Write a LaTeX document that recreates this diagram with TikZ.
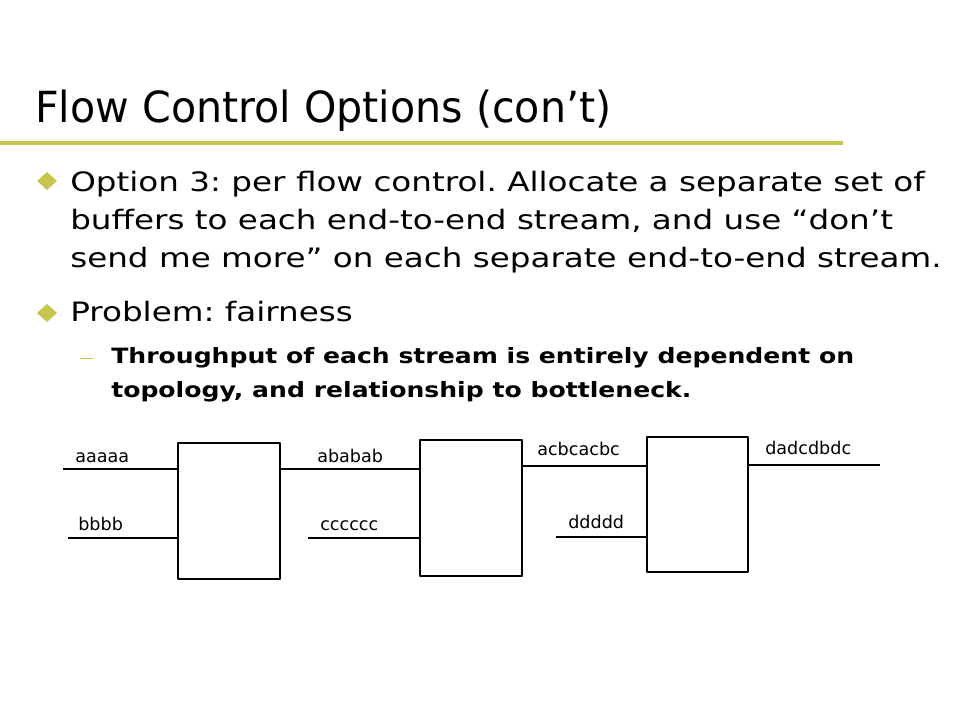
\documentclass[tikz,border=0pt]{standalone}
\usepackage{fontspec}
\setmainfont{DejaVu Sans}
\newfontfamily\titlefont[FakeStretch=0.96]{DejaVu Sans}
\newfontfamily\bodyfont[FakeStretch=1.22]{DejaVu Sans}
\newfontfamily\subfont[FakeStretch=1.19]{DejaVu Sans}
\usetikzlibrary{positioning}
\definecolor{bulletolive}{RGB}{198,198,76}
\frenchspacing

\begin{document}
\begin{tikzpicture}[x=0.025cm, y=-0.025cm, line join=round,
  body/.style={anchor=base west, inner sep=0pt, font=\bodyfont\fontsize{19}{23}\selectfont},
  subtext/.style={anchor=base west, inner sep=0pt, font=\subfont\fontsize{15}{18}\selectfont\bfseries},
  streamlbl/.style={anchor=base west, inner sep=0pt, font=\fontsize{12.5}{15}\selectfont},
  swbox/.style={draw, line width=0.8pt, minimum width=2.55cm, minimum height=3.4cm, inner sep=0pt},
  link/.style={line width=0.8pt}]
  \useasboundingbox (0,0) rectangle (960,720);
  % the title
  \node[anchor=base west, inner sep=0pt, font=\titlefont\fontsize{30.5}{36}\selectfont] (title) at (35,123) {Flow Control Options (con’t)};
  \draw[bulletolive, line width=3.5pt] (0,143) -- (843,143);
  % the bullets
  \foreach \y in {181,313} \fill[bulletolive] (47,\y-9) -- (57,\y) -- (47,\y+9) -- (37,\y) -- cycle;
  \node[body] (opt1) at (70,192) {Option 3: per flow control. Allocate a separate set of};
  \node[body] (opt2) at (70,230) {buffers to each end-to-end stream, and use “don’t};
  \node[body] (opt3) at (70,268) {send me more” on each separate end-to-end stream.};
  \node[body] (prob) at (70,322) {Problem: fairness};
  \draw[bulletolive, line width=0.7pt] (80,358) -- (93,358);
  \node[subtext] (thru1) at (111,364) {Throughput of each stream is entirely dependent on};
  \node[subtext] (thru2) at (111,398) {topology, and relationship to bottleneck.};
  % the switches
  \node[swbox] (sw1) at (229,511) {};
  \node[swbox] (sw2) at (471,508) {};
  \node[swbox, minimum width=2.525cm, minimum height=3.375cm] (sw3) at (697.5,504.5) {};
  % the streams
  \coordinate (ina) at (63,469);
  \coordinate (inb) at (68,538);
  \coordinate (inc) at (308,538);
  \coordinate (ind) at (556,537);
  \coordinate (outd) at (880,465);
  \draw[link] (ina) -- (ina -| sw1.west);
  \draw[link] (inb) -- (inb -| sw1.west);
  \draw[link] (ina -| sw1.east) -- (ina -| sw2.west);
  \draw[link] (inc) -- (inc -| sw2.west);
  \draw[link] (sw2.east |- 0,466) -- (sw3.west |- 0,466);
  \draw[link] (ind) -- (ind -| sw3.west);
  \draw[link] (outd -| sw3.east) -- (outd);
  \node[streamlbl] (lbla) at (75,463) {aaaaa};
  \node[streamlbl] (lblb) at (78,531) {bbbb};
  \node[streamlbl] (lblab) at (317,463) {ababab};
  \node[streamlbl] (lblc) at (320,531) {cccccc};
  \node[streamlbl] (lblacb) at (537,456) {acbcacbc};
  \node[streamlbl] (lbld) at (568,528) {ddddd};
  \node[streamlbl] (lblout) at (765,455) {dadcdbdc};
\end{tikzpicture}
\end{document}
